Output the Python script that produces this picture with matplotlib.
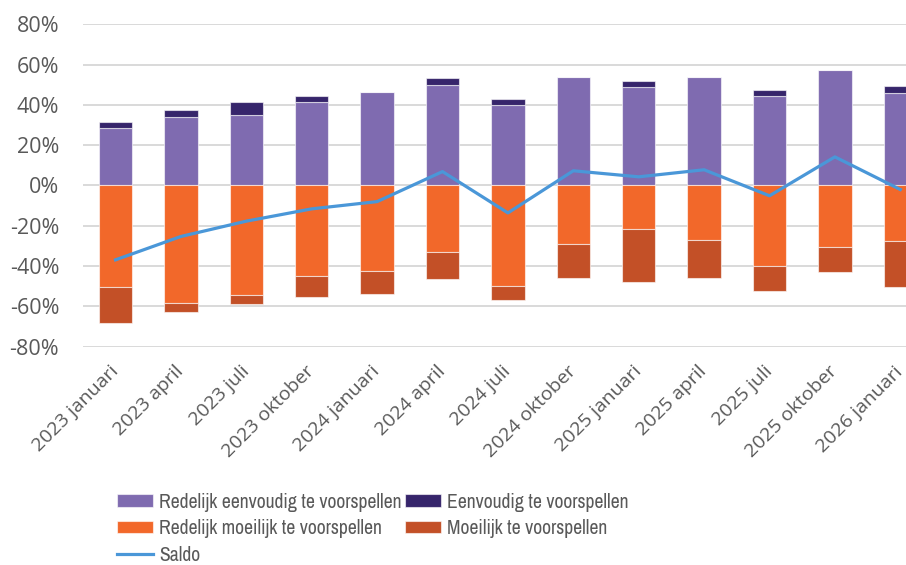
import matplotlib
matplotlib.use("Agg")
import matplotlib.pyplot as plt
import numpy as np

categories = ["2023 januari", "2023 april", "2023 juli", "2023 oktober",
              "2024 januari", "2024 april", "2024 juli", "2024 oktober",
              "2025 januari", "2025 april", "2025 juli", "2025 oktober",
              "2026 januari"]
redelijk_eenvoudig = [28.5, 34.1, 34.8, 41.2, 46.4, 50.0, 39.9, 53.8, 48.8, 53.8, 44.4, 57.1, 45.7]
eenvoudig = [3.0, 3.3, 6.4, 3.2, 0.0, 3.3, 3.1, 0.0, 3.2, 0.0, 3.1, 0.0, 3.6]
redelijk_moeilijk = [-50.5, -58.1, -54.3, -44.9, -42.4, -32.8, -49.8, -29.0, -21.4, -27.0, -39.9, -30.3, -27.6]
moeilijk = [-17.9, -4.6, -4.6, -10.6, -11.4, -13.7, -7.0, -17.0, -26.6, -19.0, -12.6, -12.6, -22.9]
saldo = [-36.9, -25.3, -17.7, -11.6, -8.0, 6.9, -13.6, 7.3, 4.3, 7.8, -5.1, 14.2, -2.0]
y_ticks = [-80, -60, -40, -20, 0, 20, 40, 60, 80]

plt.rcParams['font.family'] = ['Open Sans', 'DejaVu Sans']
text_color = '#595959'

fig = plt.figure(figsize=(9.06, 5.65), dpi=100)
ax = fig.add_axes([0.0914, 0.3864, 0.9384, 0.5706])

x = np.arange(len(categories))
w = 0.51
ec = (1, 1, 1, 0.6)
c_pur, c_navy, c_or, c_dor, c_line = '#7F6BB0', '#36256B', '#F2682A', '#C35027', '#4A97D8'

b1 = ax.bar(x, redelijk_eenvoudig, w, color=c_pur, edgecolor=ec, linewidth=0.8, zorder=2)
b2 = ax.bar(x, eenvoudig, w, bottom=redelijk_eenvoudig, color=c_navy, edgecolor=ec, linewidth=0.8, zorder=2)
b3 = ax.bar(x, redelijk_moeilijk, w, color=c_or, edgecolor=ec, linewidth=0.8, zorder=2)
b4 = ax.bar(x, moeilijk, w, bottom=redelijk_moeilijk, color=c_dor, edgecolor=ec, linewidth=0.8, zorder=2)
l1, = ax.plot(x, saldo, color=c_line, linewidth=2.3, zorder=3, solid_joinstyle='round')

ax.set_xlim(-0.5, len(categories) - 0.5)
ax.set_ylim(-80, 80)
ax.set_yticks(y_ticks)
ax.set_yticklabels([f"{v}%" for v in y_ticks], fontsize=15.5)
ax.set_xticks(x)
ax.set_xticklabels(categories, rotation=45, ha='right', va='center', rotation_mode='anchor', fontsize=14)
ax.tick_params(axis='both', length=0, labelcolor=text_color)
ax.tick_params(axis='y', pad=17)
ax.tick_params(axis='x', pad=16)
ax.grid(axis='y', color='#D9D9D9', linewidth=1.4, zorder=0)
ax.set_axisbelow(True)
for s in ax.spines.values():
    s.set_visible(False)

handles = [b1, b3, l1, b2, b4]
labels = ["Redelijk eenvoudig te voorspellen", "Redelijk moeilijk te voorspellen", "Saldo",
          "Eenvoudig te voorspellen", "Moeilijk te voorspellen"]
leg = fig.legend(handles, labels, ncol=2, loc='upper left', bbox_to_anchor=(0.129, 0.128),
                 frameon=False,
                 prop={'family': ['Archivo Narrow', 'Fira Sans Condensed', 'Asap Condensed', 'DejaVu Sans'],
                       'size': 14.2},
                 handlelength=1.83, handleheight=0.6,
                 handletextpad=0.3, columnspacing=0.2, labelspacing=0.38, borderpad=0, borderaxespad=0,
                 labelcolor=text_color)

fig.savefig("out.png", dpi=100)
